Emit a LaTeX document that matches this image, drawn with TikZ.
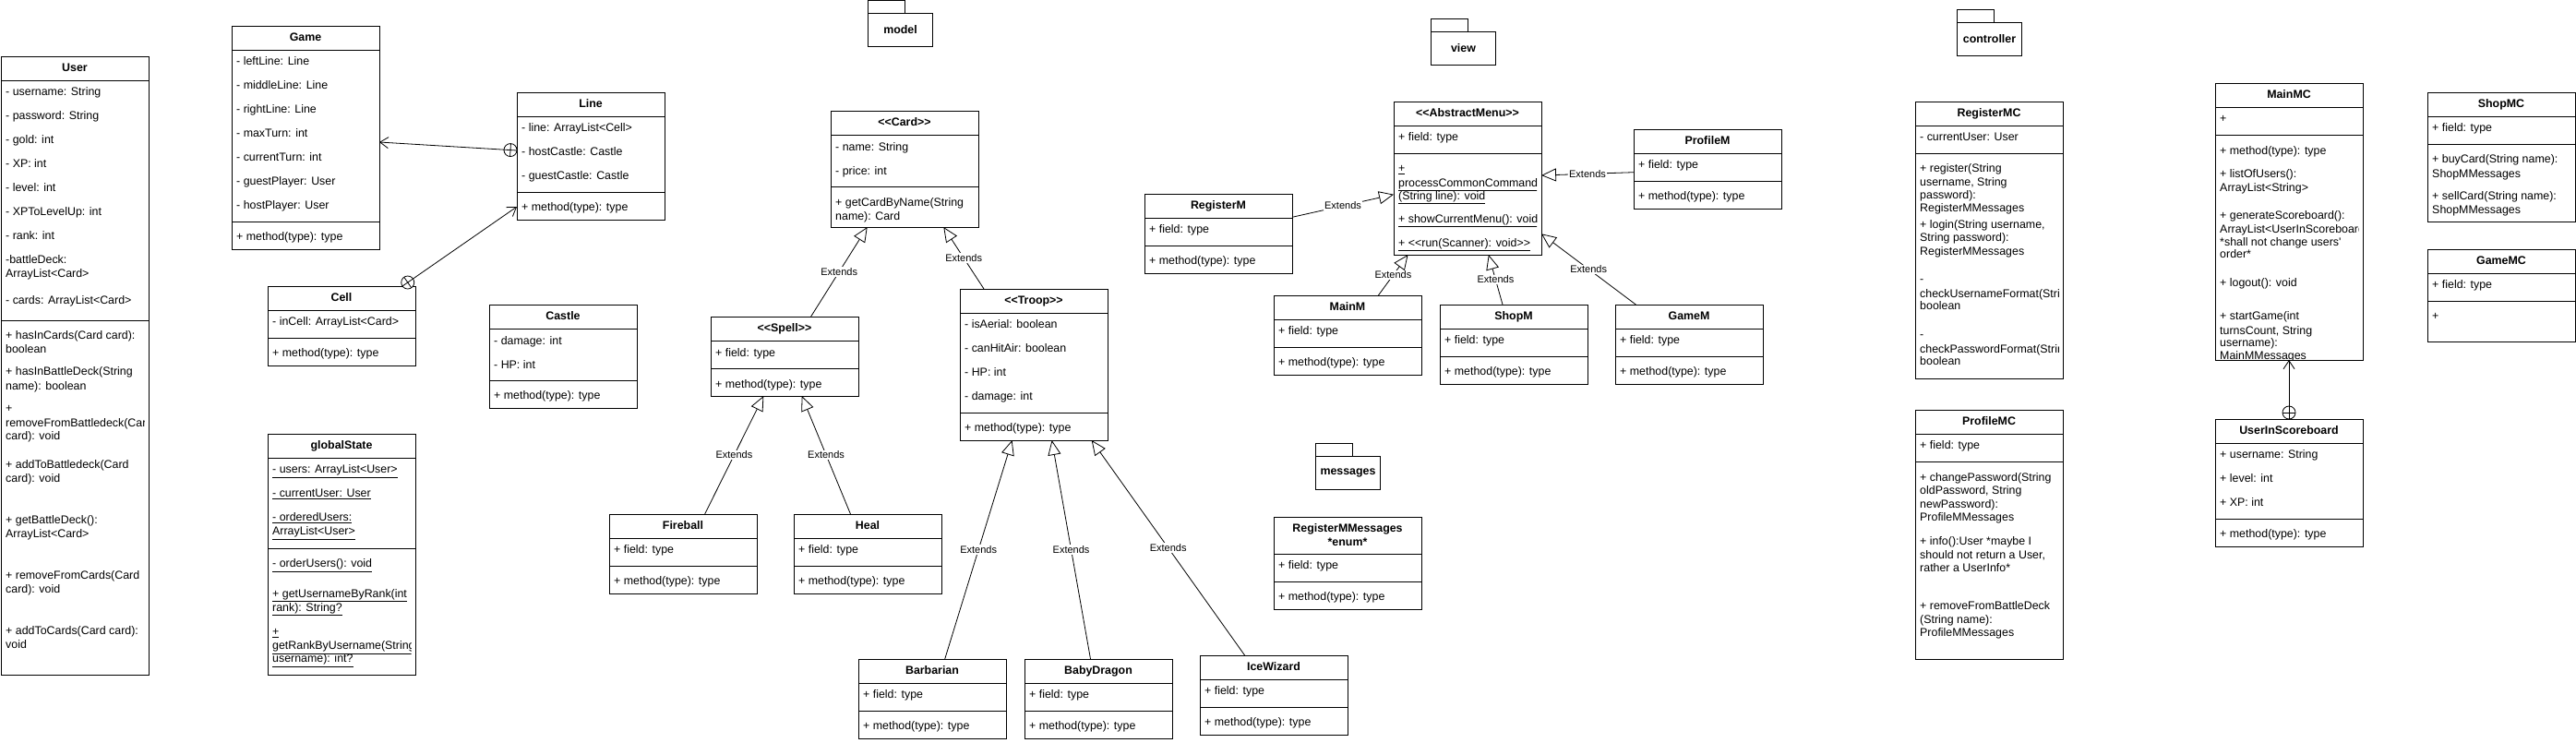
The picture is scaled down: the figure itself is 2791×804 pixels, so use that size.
\documentclass[tikz,border=0pt]{standalone}
\usepackage{fontspec}
\setmainfont{Liberation Sans}
\usetikzlibrary{arrows.meta,calc}
\newcounter{tnode}
\newcommand\umlbox[5]{\node[ubox, minimum width=#4pt, minimum height=#5pt, anchor=north west] (#1) at (#2,#3) {};}
\newcommand\umlsep[3]{\draw[sepline] (#1,#3) -- ++(#2,0);}
\newcommand\utx[3]{\stepcounter{tnode}\node[utxt] (t\arabic{tnode}) at (#1,#2) {#3};}
\newcommand\utu[3]{\stepcounter{tnode}\node[utxt] (t\arabic{tnode}) at (#1,#2) {\underline{#3}};}
\newcommand\uhd[4]{\node[uhead] (#1) at (#2,#3) {#4};}
\newcommand\dlt{<\kern0pt<}
\newcommand\dgt{>\kern0pt>}
\tikzset{
 ubox/.style={draw, line width=1pt, fill=white, inner sep=0pt, outer sep=0pt},
 sepline/.style={line width=1pt},
 utxt/.style={anchor=west, inner sep=0pt, font=\fontsize{12.4pt}{14pt}\selectfont, text height=8.8pt, text depth=2.4pt},
 uhead/.style={inner sep=0pt, font=\fontsize{12.4pt}{14pt}\selectfont\bfseries, text height=8.8pt, text depth=2.4pt},
 conn/.style={line width=0.8pt},
 ext/.style={conn, -{Triangle[open, length=16pt, width=14pt]}},
 opena/.style={conn, -{Straight Barb[length=9pt, width=12pt]}},
 extlbl/.style={fill=white, inner sep=1pt, font=\fontsize{11pt}{13pt}\selectfont},
 pkg/.style={draw, line width=1pt, inner sep=0pt, fill=white, font=\fontsize{12.4pt}{14pt}\selectfont\bfseries},
}
\begin{document}
\begin{tikzpicture}[x=1pt,y=-1pt]
\fill[white] (0,0) rectangle (2791,804);
\useasboundingbox (0,0) rectangle (2791,804);

% ---------- packages ----------
\draw[line width=1pt] (940,0.5) rectangle (980,14);
\node[pkg, minimum width=70pt, minimum height=36pt, anchor=north west] (pkgmodel) at (940,14) {model};
\draw[line width=1pt] (1550,20) rectangle (1590,34);
\node[pkg, minimum width=70pt, minimum height=36pt, anchor=north west] (pkgview) at (1550,34) {view};
\draw[line width=1pt] (1425,480) rectangle (1465,494);
\node[pkg, minimum width=70pt, minimum height=36pt, anchor=north west] (pkgmsg) at (1425,494) {messages};
\draw[line width=1pt] (2120,10) rectangle (2160,24);
\node[pkg, minimum width=70pt, minimum height=36pt, anchor=north west] (pkgctrl) at (2120,24) {controller};

% ---------- boxes ----------
\umlbox{user}{1}{61}{160}{670}
\umlbox{game}{251}{28}{160}{242}
\umlbox{line}{560}{100}{160}{138}
\umlbox{cell}{290}{310}{160}{86}
\umlbox{castle}{530}{330}{160}{112}
\umlbox{gstate}{290}{470}{160}{261}
\umlbox{card}{900}{120}{160}{126}
\umlbox{spell}{770}{343}{160}{86}
\umlbox{troop}{1040}{313}{160}{164}
\umlbox{fireball}{660}{557}{160}{86}
\umlbox{heal}{860}{557}{160}{86}
\umlbox{barb}{930}{714}{160}{86}
\umlbox{baby}{1110}{714}{160}{86}
\umlbox{ice}{1300}{710}{160}{86}
\umlbox{regmsg}{1380}{560}{160}{100}
\umlbox{absm}{1510}{110}{160}{166}
\umlbox{regm}{1240}{210}{160}{86}
\umlbox{profm}{1770}{140}{160}{86}
\umlbox{mainm}{1380}{320}{160}{86}
\umlbox{shopm}{1560}{330}{160}{86}
\umlbox{gamem}{1750}{330}{160}{86}
\umlbox{regmc}{2075}{110}{160}{300}
\umlbox{mainmc}{2400}{90}{160}{300}
\umlbox{shopmc}{2630}{100}{160}{140}
\umlbox{gamemc}{2630}{270}{160}{100}
\umlbox{profmc}{2075}{444}{160}{270}
\umlbox{uis}{2400}{454}{160}{138}

% ---------- compartment lines ----------
\umlsep{1}{160}{87}\umlsep{1}{160}{347}
\umlsep{251}{160}{54}\umlsep{251}{160}{240}
\umlsep{560}{160}{126}\umlsep{560}{160}{208}
\umlsep{290}{160}{336}\umlsep{290}{160}{366}
\umlsep{530}{160}{356}\umlsep{530}{160}{412}
\umlsep{290}{160}{496.7}\umlsep{290}{160}{594.3}
\umlsep{900}{160}{146}\umlsep{900}{160}{202}
\umlsep{770}{160}{369}\umlsep{770}{160}{399}
\umlsep{1040}{160}{339}\umlsep{1040}{160}{447}
\umlsep{660}{160}{583}\umlsep{660}{160}{613}
\umlsep{860}{160}{583}\umlsep{860}{160}{613}
\umlsep{930}{160}{740}\umlsep{930}{160}{770}
\umlsep{1110}{160}{740}\umlsep{1110}{160}{770}
\umlsep{1300}{160}{736}\umlsep{1300}{160}{766}
\umlsep{1380}{160}{600}\umlsep{1380}{160}{630}
\umlsep{1510}{160}{136}\umlsep{1510}{160}{166}
\umlsep{1240}{160}{236}\umlsep{1240}{160}{266}
\umlsep{1770}{160}{166}\umlsep{1770}{160}{196}
\umlsep{1380}{160}{346}\umlsep{1380}{160}{376}
\umlsep{1560}{160}{356}\umlsep{1560}{160}{386}
\umlsep{1750}{160}{356}\umlsep{1750}{160}{386}
\umlsep{2075}{160}{136}\umlsep{2075}{160}{166}
\umlsep{2400}{160}{116}\umlsep{2400}{160}{146}
\umlsep{2630}{160}{126}\umlsep{2630}{160}{156}
\umlsep{2630}{160}{296}\umlsep{2630}{160}{326}
\umlsep{2075}{160}{470}\umlsep{2075}{160}{500}
\umlsep{2400}{160}{480}\umlsep{2400}{160}{562.7}

% ---------- connectors ----------
% Line nested in Game
\coordinate (n1s) at ([yshift=6pt]line.west);
\coordinate (n1t) at ([yshift=-5pt]game.east);
\coordinate (n1c) at ($(n1s)!7pt!(n1t)$);
\draw[opena] (n1s) -- (n1t);
\draw[conn] (n1c) circle (7pt);
\draw[conn] ($(n1c)!7pt!90:(n1t)$) -- ($(n1c)!7pt!-90:(n1t)$);
% Cell nested in Line
\coordinate (n2s) at ([xshift=-14pt]cell.north east);
\coordinate (n2t) at ([yshift=-55pt]line.west);
\coordinate (n2c) at ($(n2s)!7pt!(n2t)$);
\draw[opena] (n2s) -- (n2t);
\draw[conn,fill=white] (n2c) circle (7pt);
\draw[conn] ($(n2c)!7pt!(n2t)$) -- ($(n2c)!7pt!180:(n2t)$);
\draw[conn] ($(n2c)!7pt!90:(n2t)$) -- ($(n2c)!7pt!-90:(n2t)$);
% UserInScoreboard nested in MainMC
\coordinate (n3s) at (uis.north);
\coordinate (n3t) at (mainmc.south);
\coordinate (n3c) at ($(n3s)!7pt!(n3t)$);
\draw[opena] (n3s) -- (n3t);
\draw[conn] (n3c) circle (7pt);
\draw[conn] ($(n3c)!7pt!90:(n3t)$) -- ($(n3c)!7pt!-90:(n3t)$);

% Extends
\draw[ext] ([xshift=28.6pt]spell.north) -- node[extlbl]{Extends} ([xshift=-40.3pt]card.south);
\draw[ext] ([xshift=-54pt]troop.north) -- node[extlbl]{Extends} ([xshift=42.3pt]card.south);
\draw[ext] ([xshift=23.6pt]fireball.north) -- node[extlbl]{Extends} ([xshift=-22.7pt]spell.south);
\draw[ext] ([xshift=-18.5pt]heal.north) -- node[extlbl]{Extends} ([xshift=18.7pt]spell.south);
\draw[ext] ([xshift=13.7pt]barb.north) -- node[extlbl]{Extends} ([xshift=-23.4pt]troop.south);
\draw[ext] ([xshift=-8.5pt]baby.north) -- node[extlbl]{Extends} ([xshift=19.6pt]troop.south);
\draw[ext] ([xshift=-31.4pt]ice.north) -- node[extlbl]{Extends} ([xshift=62.7pt]troop.south);
\draw[ext] ([yshift=17.7pt]regm.east) -- node[extlbl]{Extends} ([yshift=-17.7pt]absm.west);
\draw[ext] ([yshift=-3.7pt]profm.west) -- node[extlbl]{Extends} ([yshift=3pt]absm.east);
\draw[ext] ([xshift=33.4pt]mainm.north) -- node[extlbl]{Extends} ([xshift=-64.5pt]absm.south);
\draw[ext] ([xshift=-12pt]shopm.north) -- node[extlbl]{Extends} ([xshift=22.8pt]absm.south);
\draw[ext] ([xshift=-57.6pt]gamem.north) -- node[extlbl]{Extends} ([yshift=-60.3pt]absm.east);

% ---------- texts ----------
% User
\uhd{userh}{81}{74}{User}
\begin{scope}
\clip (1,61) rectangle (156,730);
\utx{6}{100}{- username: String}
\utx{6}{126}{- password: String}
\utx{6}{152}{- gold: int}
\utx{6}{178}{- XP: int}
\utx{6}{204}{- level: int}
\utx{6}{230}{- XPToLevelUp: int}
\utx{6}{256}{- rank: int}
\utx{6}{282}{-battleDeck:}
\utx{6}{297}{ArrayList<Card>}
\utx{6}{326}{- cards: ArrayList<Card>}
\utx{6}{364}{+ hasInCards(Card card):}
\utx{6}{379}{boolean}
\utx{6}{403}{+ hasInBattleDeck(String}
\utx{6}{419}{name): boolean}
\utx{6}{443}{+}
\utx{6}{459}{removeFromBattledeck(Card}
\utx{6}{473}{card): void}
\utx{6}{504}{+ addToBattledeck(Card}
\utx{6}{519}{card): void}
\utx{6}{564}{+ getBattleDeck():}
\utx{6}{579}{ArrayList<Card>}
\utx{6}{624}{+ removeFromCards(Card}
\utx{6}{639}{card): void}
\utx{6}{684}{+ addToCards(Card card):}
\utx{6}{699}{void}
\end{scope}
% Game
\uhd{gameh}{331}{41}{Game}
\utx{256}{67.7}{- leftLine: Line}
\utx{256}{93.7}{- middleLine: Line}
\utx{256}{119.7}{- rightLine: Line}
\utx{256}{145.7}{- maxTurn: int}
\utx{256}{171.7}{- currentTurn: int}
\utx{256}{197.7}{- guestPlayer: User}
\utx{256}{223.7}{- hostPlayer: User}
\utx{256}{257.7}{+ method(type): type}
% Line
\uhd{lineh}{640}{113}{Line}
\utx{565}{139.7}{- line: ArrayList<Cell>}
\utx{565}{165.7}{- hostCastle: Castle}
\utx{565}{191.7}{- guestCastle: Castle}
\utx{565}{225.7}{+ method(type): type}
% Cell
\uhd{cellh}{370}{323}{Cell}
\utx{295}{349.7}{- inCell: ArrayList<Card>}
\utx{295}{383.7}{+ method(type): type}
% Castle
\uhd{castleh}{610}{343}{Castle}
\utx{535}{370}{- damage: int}
\utx{535}{396}{- HP: int}
\utx{535}{429.3}{+ method(type): type}
% globalState
\uhd{gstateh}{370}{483.5}{globalState}
\begin{scope}
\clip (290,470) rectangle (445.5,730);
\utu{295}{509.7}{- users: ArrayList<User>}
\utu{295}{535.7}{- currentUser: User}
\utu{295}{561.7}{- orderedUsers:}
\utu{295}{576.7}{ArrayList<User>}
\utu{295}{611.7}{- orderUsers(): void}
\utu{295}{644}{+ getUsernameByRank(int}
\utu{295}{659}{rank): String?}
\utu{295}{685.7}{+}
\utu{295}{700.7}{getRankByUsername(String}
\utu{295}{714.7}{username): int?}
\end{scope}
% Card
\uhd{cardh}{980}{133}{\dlt Card\dgt}
\utx{905}{160}{- name: String}
\utx{905}{186}{- price: int}
\utx{905}{220}{+ getCardByName(String}
\utx{905}{235}{name): Card}
% Spell
\uhd{spellh}{850}{356}{\dlt Spell\dgt}
\utx{775}{383.3}{+ field: type}
\utx{775}{417.3}{+ method(type): type}
% Troop
\uhd{trooph}{1120}{326}{\dlt Troop\dgt}
\utx{1045}{352.7}{- isAerial: boolean}
\utx{1045}{378.7}{- canHitAir: boolean}
\utx{1045}{404.7}{- HP: int}
\utx{1045}{430.7}{- damage: int}
\utx{1045}{464.3}{+ method(type): type}
% Fireball, Heal
\uhd{fireballh}{740}{570}{Fireball}
\utx{665}{596.7}{+ field: type}
\utx{665}{630.7}{+ method(type): type}
\uhd{healh}{940}{570}{Heal}
\utx{865}{596.7}{+ field: type}
\utx{865}{630.7}{+ method(type): type}
% Barbarian, BabyDragon, IceWizard
\uhd{barbh}{1010}{727}{Barbarian}
\utx{935}{753.7}{+ field: type}
\utx{935}{787.7}{+ method(type): type}
\uhd{babyh}{1190}{727}{BabyDragon}
\utx{1115}{753.7}{+ field: type}
\utx{1115}{787.7}{+ method(type): type}
\uhd{iceh}{1380}{723}{IceWizard}
\utx{1305}{749.7}{+ field: type}
\utx{1305}{783.7}{+ method(type): type}
% RegisterMMessages
\uhd{regmsgh}{1460}{573.7}{RegisterMMessages}
\uhd{regmsgh2}{1460}{588.7}{*enum*}
\utx{1385}{613.7}{+ field: type}
\utx{1385}{647.7}{+ method(type): type}
% AbstractMenu
\uhd{absmh}{1590}{123}{\dlt AbstractMenu\dgt}
\utx{1515}{149.7}{+ field: type}
\begin{scope}
\clip (1510,110) rectangle (1665,276);
\utu{1515}{183.7}{+}
\utu{1515}{199}{processCommonCommand}
\utu{1515}{213}{(String line): void}
\utu{1515}{238}{+ showCurrentMenu(): void}
\utu{1515}{264}{+ \dlt run(Scanner): void\dgt}
\end{scope}
% RegisterM, ProfileM, MainM, ShopM, GameM
\uhd{regmh}{1320}{223}{RegisterM}
\utx{1245}{249.7}{+ field: type}
\utx{1245}{283.7}{+ method(type): type}
\uhd{profmh}{1850}{153}{ProfileM}
\utx{1775}{179.7}{+ field: type}
\utx{1775}{213.7}{+ method(type): type}
\uhd{mainmh}{1460}{333}{MainM}
\utx{1385}{359.7}{+ field: type}
\utx{1385}{393.7}{+ method(type): type}
\uhd{shopmh}{1640}{343}{ShopM}
\utx{1565}{369.7}{+ field: type}
\utx{1565}{403.7}{+ method(type): type}
\uhd{gamemh}{1830}{343}{GameM}
\utx{1755}{369.7}{+ field: type}
\utx{1755}{403.7}{+ method(type): type}
% RegisterMC
\uhd{regmch}{2155}{123}{RegisterMC}
\begin{scope}
\clip (2075,110) rectangle (2230.5,410);
\utx{2080}{149.7}{- currentUser: User}
\utx{2080}{183.7}{+ register(String}
\utx{2080}{198.7}{username, String}
\utx{2080}{212.7}{password):}
\utx{2080}{226.7}{RegisterMMessages}
\utx{2080}{244}{+ login(String username,}
\utx{2080}{258.7}{String password):}
\utx{2080}{273}{RegisterMMessages}
\utx{2080}{303.7}{-}
\utx{2080}{319}{checkUsernameFormat(String}
\utx{2080}{332.7}{boolean}
\utx{2080}{363.3}{-}
\utx{2080}{379}{checkPasswordFormat(String}
\utx{2080}{392.7}{boolean}
\end{scope}
% MainMC
\uhd{mainmch}{2480}{103}{MainMC}
\begin{scope}
\clip (2400,90) rectangle (2555.5,389.5);
\utx{2405}{129.7}{+}
\utx{2405}{164}{+ method(type): type}
\utx{2405}{189.7}{+ listOfUsers():}
\utx{2405}{204.7}{ArrayList<String>}
\utx{2405}{234}{+ generateScoreboard():}
\utx{2405}{249}{ArrayList<UserInScoreboard>}
\utx{2405}{263}{*shall not change users\textquotesingle}
\utx{2405}{276.7}{order*}
\utx{2405}{307.7}{+ logout(): void}
\utx{2405}{343.7}{+ startGame(int}
\utx{2405}{359}{turnsCount, String}
\utx{2405}{372.7}{username):}
\utx{2405}{386.7}{MainMMessages}
\end{scope}
% ShopMC
\uhd{shopmch}{2710}{113}{ShopMC}
\utx{2635}{139.7}{+ field: type}
\utx{2635}{173.7}{+ buyCard(String name):}
\utx{2635}{189}{ShopMMessages}
\utx{2635}{213.7}{+ sellCard(String name):}
\utx{2635}{228.7}{ShopMMessages}
% GameMC
\uhd{gamemch}{2710}{283}{GameMC}
\utx{2635}{309.7}{+ field: type}
\utx{2635}{343.3}{+}
% ProfileMC
\uhd{profmch}{2155}{457}{ProfileMC}
\utx{2080}{483.7}{+ field: type}
\utx{2080}{518}{+ changePassword(String}
\utx{2080}{532.7}{oldPassword, String}
\utx{2080}{547}{newPassword):}
\utx{2080}{561}{ProfileMMessages}
\utx{2080}{587.7}{+ info():User *maybe I}
\utx{2080}{602.7}{should not return a User,}
\utx{2080}{616.7}{rather a UserInfo*}
\utx{2080}{657.7}{+ removeFromBattleDeck}
\utx{2080}{672.7}{(String name):}
\utx{2080}{686.7}{ProfileMMessages}
% UserInScoreboard
\uhd{uish}{2480}{467}{UserInScoreboard}
\utx{2405}{493.7}{+ username: String}
\utx{2405}{519.7}{+ level: int}
\utx{2405}{545.7}{+ XP: int}
\utx{2405}{579.7}{+ method(type): type}
\end{tikzpicture}
\end{document}
